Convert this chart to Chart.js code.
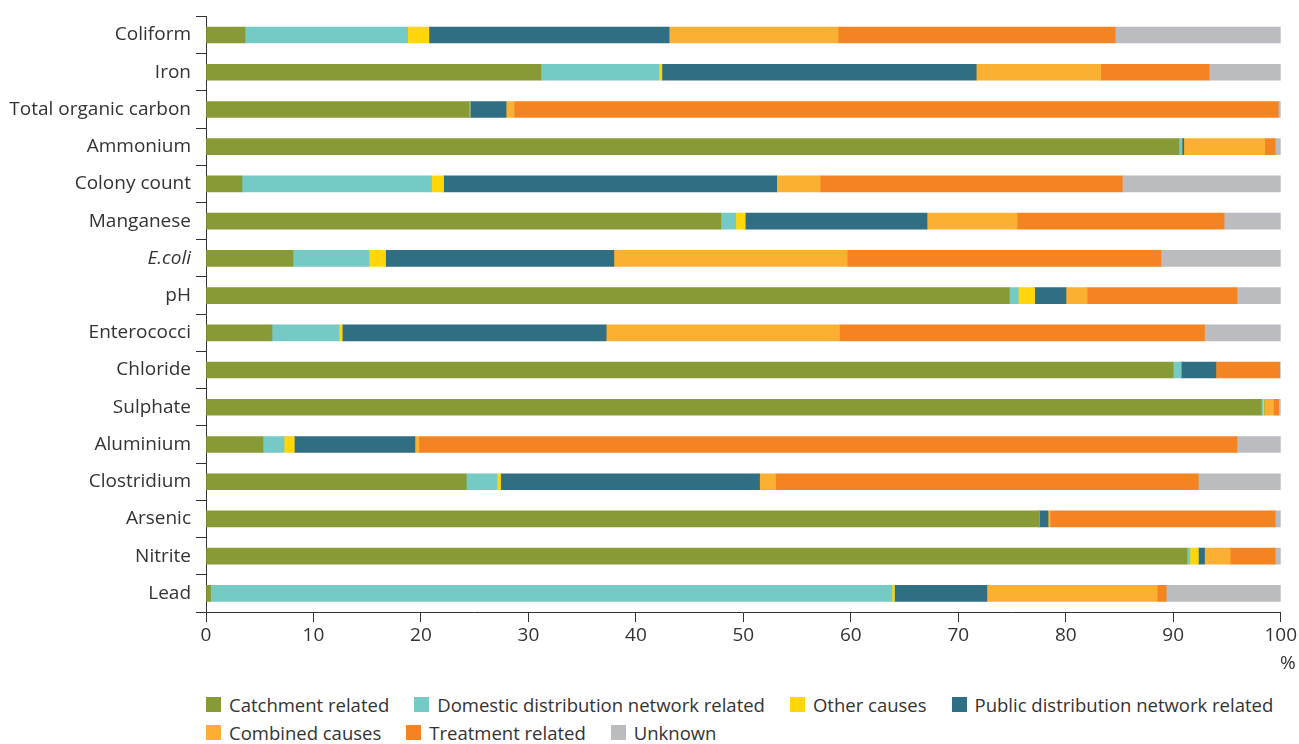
<!DOCTYPE html>
<html>
<head>
<meta charset="utf-8">
<script src="https://cdn.jsdelivr.net/npm/chart.js@4"></script>
<style>
  body { margin: 0; background: #fff; font-family: "Open Sans", sans-serif; }
  #wrap { position: relative; width: 1299px; height: 744px; }
  #legend {
    position: absolute; left: 206px; top: 690px; width: 1090px;
    display: flex; flex-wrap: wrap; column-gap: 25px;
    font-size: 18.5px; color: #333;
  }
  .item { display: flex; align-items: center; height: 28px; white-space: nowrap; }
  .swatch { width: 15px; height: 15px; margin-right: 8px; }
</style>
</head>
<body>
<div id="wrap">
  <canvas id="chart" width="1299" height="680"></canvas>
  <div id="legend"></div>
</div>
<script>
// Parameters (top to bottom)
const parameters = ['Coliform', 'Iron', 'Total organic carbon', 'Ammonium', 'Colony count',
  'Manganese', 'E.coli', 'pH', 'Enterococci', 'Chloride', 'Sulphate', 'Aluminium',
  'Clostridium', 'Arsenic', 'Nitrite', 'Lead'];

// Share of cause per parameter, %
const catchment = [3.63, 31.16, 24.47, 90.53, 3.35, 47.9, 8.09, 74.75, 6.14, 89.99, 98.19, 5.3, 24.22, 77.52, 91.28, 0.43];
const domestic  = [15.13, 10.98, 0.1, 0.27, 17.64, 1.4, 7.07, 0.83, 6.23, 0.73, 0.14, 1.96, 2.85, 0, 0.27, 63.4];
const other     = [1.98, 0.28, 0, 0, 1.12, 0.88, 1.55, 1.52, 0.31, 0, 0.13, 0.96, 0.34, 0, 0.79, 0.23];
const publicNet = [22.35, 29.25, 3.35, 0.18, 30.99, 16.91, 21.24, 2.92, 24.56, 3.25, 0, 11.22, 24.1, 0.83, 0.57, 8.6];
const combined  = [15.73, 11.58, 0.75, 7.52, 4.05, 8.38, 21.71, 1.97, 21.7, 0, 0.86, 0.37, 1.48, 0.19, 2.39, 15.85];
const treatment = [25.78, 10.08, 71.1, 0.98, 28.11, 19.26, 29.2, 13.95, 33.97, 5.93, 0.49, 76.13, 39.35, 20.94, 4.18, 0.84];
const unknown   = [15.4, 6.67, 0.23, 0.52, 14.74, 5.27, 11.14, 4.06, 7.09, 0.1, 0.19, 4.06, 7.66, 0.52, 0.52, 10.65];

const xTicks = [0, 10, 20, 30, 40, 50, 60, 70, 80, 90, 100];

const series = [
  { label: 'Catchment related', data: catchment, color: '#879a36' },
  { label: 'Domestic distribution network related', data: domestic, color: '#76cac6' },
  { label: 'Other causes', data: other, color: '#ffd60a' },
  { label: 'Public distribution network related', data: publicNet, color: '#306e83' },
  { label: 'Combined causes', data: combined, color: '#fbb034' },
  { label: 'Treatment related', data: treatment, color: '#f48322' },
  { label: 'Unknown', data: unknown, color: '#bbbcbf' }
];

const axisColor = '#333';
const fontFamily = '"Open Sans", sans-serif';
const fontSize = 19;

// draws the "%" unit under the last tick label
const unitLabel = {
  id: 'unitLabel',
  afterDraw(chart) {
    const c = chart.ctx;
    c.save();
    c.font = fontSize + 'px ' + fontFamily;
    c.fillStyle = axisColor;
    c.textAlign = 'right';
    c.textBaseline = 'middle';
    c.fillText('%', chart.chartArea.right + 15, 664);
    c.restore();
  }
};

const chart = new Chart(document.getElementById('chart'), {
  type: 'bar',
  data: {
    labels: parameters,
    datasets: series.map(s => ({
      label: s.label,
      data: s.data,
      backgroundColor: s.color,
      borderWidth: 0,
      barThickness: 16
    }))
  },
  options: {
    indexAxis: 'y',
    responsive: false,
    animation: false,
    layout: { padding: { top: 13, right: 18, left: 0, bottom: 0 } },
    plugins: {
      legend: { display: false },
      tooltip: { enabled: false }
    },
    scales: {
      x: {
        stacked: true,
        min: 0,
        max: 100,
        afterBuildTicks: scale => { scale.ticks = xTicks.map(v => ({ value: v })); },
        afterFit: scale => { scale.height = 68; },
        grid: { drawOnChartArea: false, tickLength: 10, color: axisColor },
        border: { color: axisColor },
        ticks: { color: axisColor, padding: 2, font: { family: fontFamily, size: fontSize } }
      },
      y: {
        stacked: true,
        afterFit: scale => { scale.width = 206; },
        grid: { drawOnChartArea: false, offset: true, tickLength: 10, color: axisColor },
        border: { color: axisColor },
        ticks: {
          color: axisColor,
          padding: 5,
          font: ctx => ({
            family: fontFamily,
            size: fontSize,
            style: parameters[ctx.index] === 'E.coli' ? 'italic' : 'normal'
          })
        }
      }
    }
  },
  plugins: [unitLabel]
});

// HTML legend from the chart's datasets
const legendEl = document.getElementById('legend');
chart.data.datasets.forEach(ds => {
  const item = document.createElement('div');
  item.className = 'item';
  const sw = document.createElement('span');
  sw.className = 'swatch';
  sw.style.background = ds.backgroundColor;
  const txt = document.createElement('span');
  txt.textContent = ds.label;
  item.appendChild(sw);
  item.appendChild(txt);
  legendEl.appendChild(item);
});
</script>
</body>
</html>
